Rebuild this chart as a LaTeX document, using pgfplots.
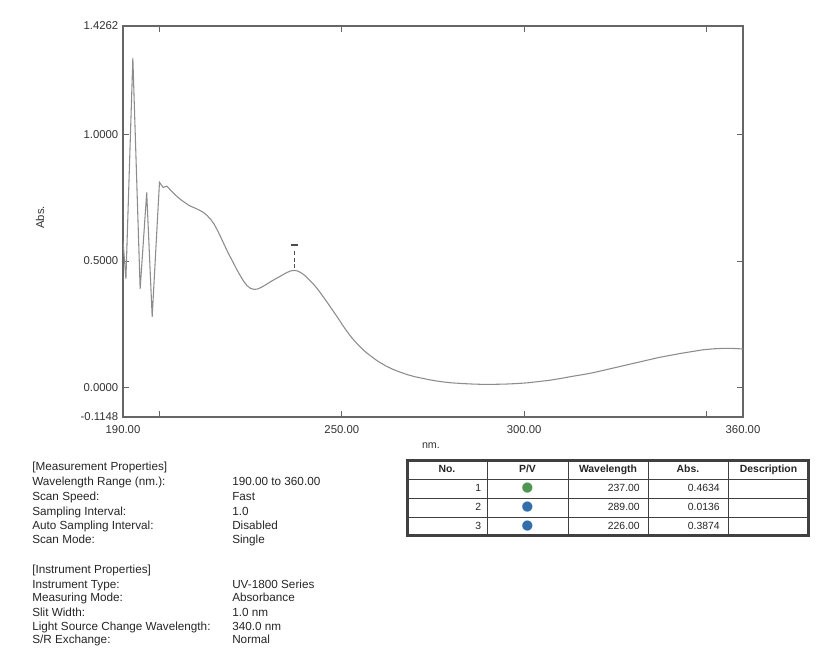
\documentclass[border=0pt]{standalone}
\usepackage{fontspec}
\setmainfont{Liberation Sans}
\newfontfamily\symfont{DejaVu Sans}
\usepackage{pgfplots}
\pgfplotsset{compat=1.18}
\definecolor{pkgreen}{RGB}{80,150,80}
\definecolor{vlblue}{RGB}{50,110,170}
\begin{document}
\begin{tikzpicture}
\path[use as bounding box, fill=white] (0,0) rectangle (624pt,-486pt);
\begin{axis}[
  at={(92.25pt,-19.5pt)}, anchor=north west,
  scale only axis, width=465pt, height=293.25pt,
  xmin=190, xmax=360, ymin=-0.1148, ymax=1.4262,
  xtick={190,200,250,300,350,360},
  xticklabels={190.00,,250.00,300.00,,360.00},
  ytick={-0.1148,0,0.5,1,1.4262},
  yticklabels={-0.1148,0.0000,0.5000,1.0000,1.4262},
  tick align=inside, major tick length=4.5pt,
  tick style={black!60, line width=0.6pt},
  axis line style={black!60, line width=0.9pt},
  ticklabel style={font=\fontsize{8.5}{10}\selectfont, text=black!80},
  xticklabel style={yshift=-3pt},
  /pgf/number format/assume math mode=true,
  clip=true,
]
\addplot[black!45, line width=0.8pt] coordinates {
(190,0.58)(190.8,0.43)(192.7,1.30)(194.7,0.39)(196.5,0.77)(198.0,0.28)(200,0.81)
(201,0.79)(202,0.795)(203,0.78)(204,0.765)(205,0.752)(206,0.74)(207,0.73)(208,0.72)
(209,0.713)(210,0.707)(211,0.70)(212,0.692)(213,0.68)(214,0.665)(215,0.645)(216,0.618)
(217,0.588)(218,0.557)(219,0.527)(220,0.50)(221,0.472)(222,0.446)(223,0.422)(224,0.403)
(225,0.392)(226,0.388)(227,0.39)(228,0.397)(229,0.405)(230,0.414)(231,0.423)(232,0.431)
(233,0.439)(234,0.447)(235,0.455)(236,0.461)(237,0.463)(238,0.46)(239,0.452)(240,0.441)
(241,0.427)(242,0.412)(243,0.396)(244,0.377)(245,0.357)(246,0.337)(247,0.316)(248,0.295)
(249,0.274)(250,0.252)(251,0.231)(252,0.211)(253,0.193)(254,0.177)(255,0.162)(256,0.148)
(257,0.136)(258,0.125)(259,0.114)(260,0.104)(262,0.087)(264,0.073)(266,0.062)(268,0.052)
(270,0.044)(272,0.038)(274,0.032)(276,0.027)(278,0.023)(280,0.02)(283,0.017)(286,0.015)
(289,0.0136)(292,0.014)(295,0.015)(298,0.017)(301,0.02)(304,0.025)(307,0.03)(310,0.037)
(313,0.045)(316,0.052)(319,0.06)(322,0.07)(325,0.08)(328,0.09)(331,0.10)(334,0.11)
(337,0.12)(340,0.128)(343,0.136)(346,0.143)(349,0.15)(352,0.154)(355,0.156)(358,0.155)
(360,0.153)
};
\addplot[black!70, line width=1pt] coordinates {(236,0.563)(238,0.563)};
\addplot[black!70, line width=0.8pt, densely dashed] coordinates {(237,0.54)(237,0.468)};
\end{axis}
% axis titles
\node[rotate=90, font=\fontsize{8.5}{10}\selectfont, text=black!80] at (30pt,-163pt) {Abs.};
\node[anchor=west, font=\fontsize{8}{10}\selectfont, text=black!80] at (313pt,-334pt) {nm.};
% properties block
\begin{scope}[every node/.style={anchor=west, inner sep=0pt, text height=6.5pt, text depth=1.8pt, font=\fontsize{8.8}{10}\selectfont, text=black!85}]
\node at (24pt,-350.25pt) {[Measurement Properties]};
\node at (24pt,-361.5pt) {Wavelength Range (nm.):};
\node at (174pt,-361.5pt) {190.00 to 360.00};
\node at (24pt,-372.75pt) {Scan Speed:};
\node at (174pt,-372.75pt) {Fast};
\node at (24pt,-384pt) {Sampling Interval:};
\node at (174pt,-384pt) {1.0};
\node at (24pt,-394.5pt) {Auto Sampling Interval:};
\node at (174pt,-394.5pt) {Disabled};
\node at (24pt,-405pt) {Scan Mode:};
\node at (174pt,-405pt) {Single};
\node at (24pt,-427.5pt) {[Instrument Properties]};
\node at (24pt,-438.75pt) {Instrument Type:};
\node at (174pt,-438.75pt) {UV-1800 Series};
\node at (24pt,-448.5pt) {Measuring Mode:};
\node at (174pt,-448.5pt) {Absorbance};
\node at (24pt,-459.75pt) {Slit Width:};
\node at (174pt,-459.75pt) {1.0 nm};
\node at (24pt,-470.25pt) {Light Source Change Wavelength:};
\node at (174pt,-470.25pt) {340.0 nm};
\node at (24pt,-480pt) {S/R Exchange:};
\node at (174pt,-480pt) {Normal};
\end{scope}
% peak table
\draw[black!75, line width=1.1pt] (305.25pt,-345pt) rectangle (606.75pt,-402pt);
\draw[black!75, line width=0.3pt] (306.5pt,-346.25pt) rectangle (605.5pt,-400.75pt);
\foreach \yy in {359.25,373.5,387.75} \draw[black!75, line width=0.7pt] (305.25pt,-\yy pt) -- (606.75pt,-\yy pt);
\foreach \xx in {365.25,426,486,546} \draw[black!75, line width=0.7pt] (\xx pt,-345pt) -- (\xx pt,-402pt);
\begin{scope}[every node/.style={inner sep=0pt, text height=5.8pt, text depth=1.6pt, font=\fontsize{7.8}{9}\selectfont, text=black!85}]
\node[font=\fontsize{7.8}{9}\selectfont\bfseries] at (335.25pt,-352.1pt) {No.};
\node[font=\fontsize{7.8}{9}\selectfont\bfseries] at (395.6pt,-352.1pt) {P/V};
\node[font=\fontsize{7.8}{9}\selectfont\bfseries] at (456pt,-352.1pt) {Wavelength};
\node[font=\fontsize{7.8}{9}\selectfont\bfseries] at (516pt,-352.1pt) {Abs.};
\node[font=\fontsize{7.8}{9}\selectfont\bfseries] at (576.4pt,-352.1pt) {Description};
\node[anchor=east] at (361pt,-366.4pt) {1};
\node[anchor=east] at (361pt,-380.6pt) {2};
\node[anchor=east] at (361pt,-394.9pt) {3};
\node[font=\symfont\fontsize{10}{10}\selectfont, text=pkgreen, text height=, text depth=] at (395.6pt,-366.4pt) {●};
\node[font=\symfont\fontsize{10}{10}\selectfont, text=vlblue, text height=, text depth=] at (395.6pt,-380.6pt) {●};
\node[font=\symfont\fontsize{10}{10}\selectfont, text=vlblue, text height=, text depth=] at (395.6pt,-394.9pt) {●};
\node[anchor=east] at (480pt,-366.4pt) {237.00};
\node[anchor=east] at (480pt,-380.6pt) {289.00};
\node[anchor=east] at (480pt,-394.9pt) {226.00};
\node[anchor=east] at (540pt,-366.4pt) {0.4634};
\node[anchor=east] at (540pt,-380.6pt) {0.0136};
\node[anchor=east] at (540pt,-394.9pt) {0.3874};
\end{scope}
\end{tikzpicture}
\end{document}
